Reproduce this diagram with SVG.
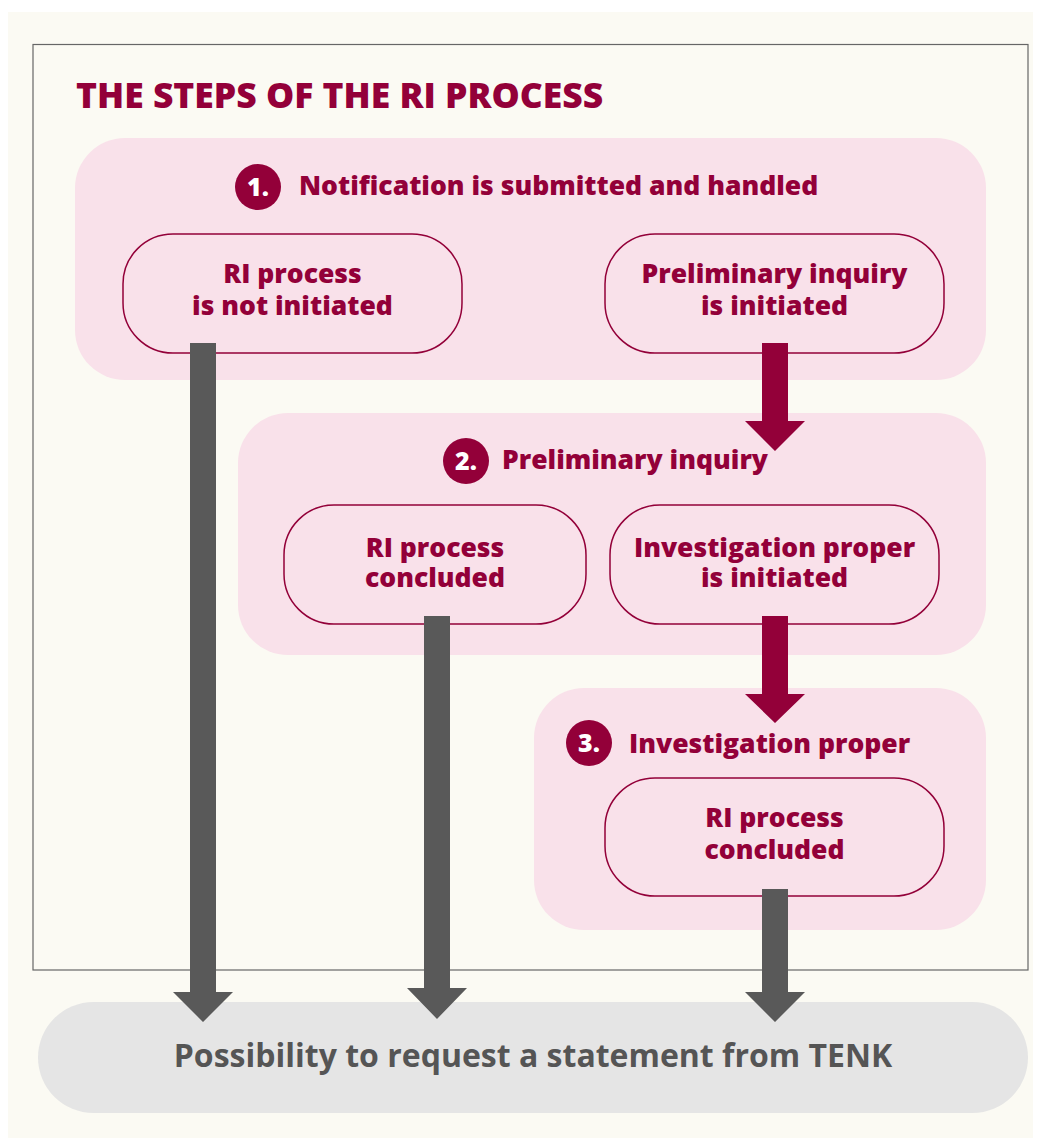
<svg xmlns="http://www.w3.org/2000/svg" width="1038" height="1145" viewBox="0 0 1038 1145">
  <style>
    text { font-family: "Open Sans", "Noto Sans", "Liberation Sans", sans-serif; font-weight: 800; }
    .title { font-size: 35.5px; fill: #930039; }
    .step { fill: #F9E1EA; }
    .head { font-size: 26.5px; fill: #930039; }
    .num { font-size: 25px; fill: #ffffff; text-anchor: middle; }
    .badge { fill: #930039; }
    .node { fill: #F9E1EA; stroke: #930039; stroke-width: 1.5; }
    .ntext { font-size: 26.5px; fill: #930039; text-anchor: middle; }
    .red { fill: #930039; }
    .gray { fill: #595959; }
    .final { fill: #E5E5E5; }
    .ftext { font-size: 32px; font-weight: 700; fill: #555555; text-anchor: middle; }
  </style>
  <rect x="0" y="0" width="1038" height="1145" fill="#ffffff"/>
  <rect x="8" y="12" width="1025" height="1126" fill="#FBFAF3"/>
  <rect x="33" y="44.5" width="995" height="925.5" fill="none" stroke="#666666" stroke-width="1.2"/>
  <text class="title" x="76" y="108">THE STEPS OF THE RI PROCESS</text>

  <g id="step1">
    <rect class="step" x="75" y="138" width="911" height="242" rx="50"/>
    <circle class="badge" cx="258" cy="187" r="23"/>
    <text class="num" x="258" y="196">1.</text>
    <text class="head" x="299" y="195">Notification is submitted and handled</text>
  </g>
  <g id="step2">
    <rect class="step" x="238" y="413" width="748" height="242" rx="50"/>
    <circle class="badge" cx="466" cy="461" r="23"/>
    <text class="num" x="466" y="470">2.</text>
    <text class="head" x="502" y="469">Preliminary inquiry</text>
  </g>
  <g id="step3">
    <rect class="step" x="534" y="688" width="452" height="242" rx="50"/>
    <circle class="badge" cx="589" cy="743" r="23"/>
    <text class="num" x="589" y="752">3.</text>
    <text class="head" x="629" y="753">Investigation proper</text>
  </g>

  <g id="node-not-initiated">
    <rect class="node" x="123" y="234" width="339" height="119" rx="50"/>
    <text class="ntext" x="292.5" y="283">RI process</text>
    <text class="ntext" x="292.5" y="315">is not initiated</text>
  </g>
  <g id="node-prelim-initiated">
    <rect class="node" x="605" y="234" width="339" height="119" rx="50"/>
    <text class="ntext" x="774.5" y="283">Preliminary inquiry</text>
    <text class="ntext" x="774.5" y="315">is initiated</text>
  </g>
  <g id="node-concluded-2">
    <rect class="node" x="284" y="505" width="302" height="119" rx="50"/>
    <text class="ntext" x="435" y="557">RI process</text>
    <text class="ntext" x="435" y="587">concluded</text>
  </g>
  <g id="node-investigation-initiated">
    <rect class="node" x="610" y="505" width="329" height="119" rx="50"/>
    <text class="ntext" x="774.5" y="557">Investigation proper</text>
    <text class="ntext" x="774.5" y="587">is initiated</text>
  </g>
  <g id="node-concluded-3">
    <rect class="node" x="605" y="778" width="339" height="118" rx="50"/>
    <text class="ntext" x="774.5" y="827">RI process</text>
    <text class="ntext" x="774.5" y="859">concluded</text>
  </g>

  <g id="node-final">
    <rect class="final" x="38" y="1002" width="990" height="111" rx="55.5"/>
    <text class="ftext" x="533" y="1067">Possibility to request a statement from TENK</text>
  </g>

  <g id="connectors">
    <polygon class="red" points="762,343 788,343 788,421 805,421 775,451 745,421 762,421"/>
    <polygon class="red" points="762,616 788,616 788,694 805,694 775,723 745,694 762,694"/>
    <polygon class="gray" points="190,343 216,343 216,992 233,992 203,1022 173,992 190,992"/>
    <polygon class="gray" points="424,616 450,616 450,988 467,988 437,1019 407,988 424,988"/>
    <polygon class="gray" points="762,889 788,889 788,992 805,992 775,1022 745,992 762,992"/>
  </g>
</svg>
